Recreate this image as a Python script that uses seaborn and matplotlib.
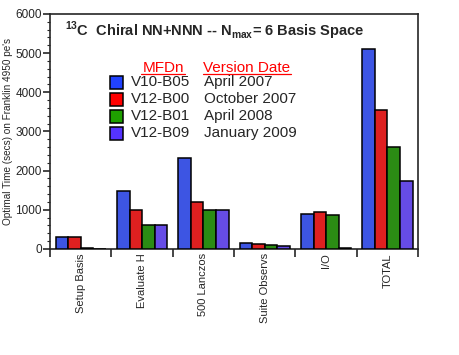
import seaborn as sns
import numpy as np
import pandas as pd
import matplotlib.pyplot as plt
from matplotlib.patches import Rectangle
from matplotlib.ticker import AutoMinorLocator, FixedLocator, NullFormatter

sns.set_style("ticks")
plt.rcParams['font.family'] = ['Liberation Sans', 'DejaVu Sans']
plt.rcParams['mathtext.fontset'] = 'custom'
plt.rcParams['mathtext.rm'] = 'Liberation Sans:bold'
plt.rcParams['mathtext.bf'] = 'Liberation Sans:bold'

# data
steps = ["Setup Basis", "Evaluate H", "500 Lanczos", "Suite Observs", "I/O", "TOTAL"]
versions = ["V10-B05", "V12-B00", "V12-B01", "V12-B09"]
dates = ["April 2007", "October 2007", "April 2008", "January 2009"]
v10_b05 = [300, 1470, 2320, 150, 885, 5100]
v12_b00 = [295, 985, 1200, 115, 950, 3540]
v12_b01 = [10, 615, 1000, 105, 860, 2590]
v12_b09 = [8, 620, 1000, 80, 10, 1720]
colors = ["#2142ff", "#ff0000", "#1fa000", "#5533ff"]

df = pd.DataFrame({
    "step": steps * 4,
    "version": np.repeat(versions, len(steps)),
    "time": v10_b05 + v12_b00 + v12_b01 + v12_b09,
})

fig = plt.figure(figsize=(4.6, 3.55), dpi=100)
ax = fig.add_axes([0.109, 0.299, 0.8, 0.662])

sns.barplot(data=df, x="step", y="time", hue="version", palette=colors,
            width=0.82, gap=0, edgecolor="black", linewidth=1.1,
            errorbar=None, legend=False, ax=ax, zorder=3)

ax.set_ylim(0, 6000)
ax.set_xlim(-0.5, len(steps) - 0.5)
ax.set_yticks(range(0, 6001, 1000))
ax.yaxis.set_minor_locator(AutoMinorLocator(5))
ax.tick_params(axis="y", which="major", labelsize=8.5, length=5, width=1.2, pad=1)
ax.tick_params(axis="y", which="minor", length=2.5, width=0.8)

# group boundaries as ticks, names as rotated labels at centres
ax.xaxis.set_major_locator(FixedLocator(np.arange(-0.5, len(steps), 1.0)))
ax.xaxis.set_major_formatter(NullFormatter())
ax.xaxis.set_minor_locator(FixedLocator(np.arange(len(steps))))
ax.set_xticklabels(steps, minor=True, rotation=90, va="top", ha="center", fontsize=8)
ax.tick_params(axis="x", which="major", length=6, width=1.2)
ax.tick_params(axis="x", which="minor", length=0, pad=3)

for s in ax.spines.values():
    s.set_linewidth(1.2)

ax.set_xlabel("")
ax.set_ylabel("Optimal Time (secs) on Franklin 4950 pe's", fontsize=7.2, labelpad=2)

ax.text(0.04, 0.905, r"$^{13}$C  Chiral NN+NNN -- N$_{\mathrm{max}}$= 6 Basis Space",
        transform=ax.transAxes, fontsize=10.5, fontweight="bold", va="baseline")

# hand-made legend
def fx(px):
    return (px - 50) / 368.0

def fy(py):
    return (249 - py) / 235.0

ax.text(fx(163), fy(72), "MFDn", color="red", fontsize=11, ha="center",
        va="baseline", transform=ax.transAxes)
ax.text(fx(203), fy(72), "Version Date", color="red", fontsize=11, ha="left",
        va="baseline", transform=ax.transAxes)
ax.plot([fx(141), fx(185)], [fy(74.5)] * 2, color="red", lw=0.9,
        transform=ax.transAxes, clip_on=False)
ax.plot([fx(203), fx(291)], [fy(74.5)] * 2, color="red", lw=0.9,
        transform=ax.transAxes, clip_on=False)

for i, (v, d, c) in enumerate(zip(versions, dates, colors)):
    yc = 82.5 + i * 17
    ax.add_patch(Rectangle((fx(110), fy(yc + 6.5)), 13 / 368.0, 13 / 235.0,
                           facecolor=c, edgecolor="black", lw=1.1,
                           transform=ax.transAxes, zorder=5))
    ax.text(fx(131), fy(yc), v, fontsize=11, va="center", transform=ax.transAxes)
    ax.text(fx(204), fy(yc), d, fontsize=11, va="center", transform=ax.transAxes)

fig.savefig("out.png", dpi=100)
